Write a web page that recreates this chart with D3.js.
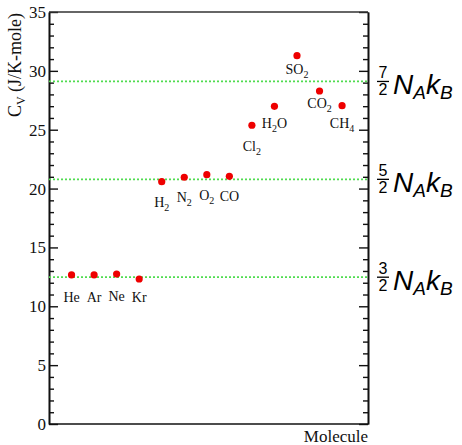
<!DOCTYPE html>
<html>
<head>
<meta charset="utf-8">
<script src="https://cdn.jsdelivr.net/npm/d3@7"></script>
<style>
  body { margin: 0; background: #fff; }
  text { font-family: "Liberation Serif", "Times New Roman", serif; }
</style>
</head>
<body>
<div id="chart"></div>
<script>
// data
const molecules = ["He", "Ar", "Ne", "Kr", "H2", "N2", "O2", "CO", "Cl2", "H2O", "SO2", "CO2", "CH4"];
const cvValues = [12.66, 12.66, 12.74, 12.32, 20.59, 20.96, 21.18, 21.04, 25.38, 26.99, 31.29, 28.29, 27.04];
const halfDegrees = [3, 5, 7];   // (n/2) N_A k_B
const R = 8.314;
const yTicks = [0, 5, 10, 15, 20, 25, 30, 35];

// label baseline offset under each point (px)
const labelDy = [27, 27, 27, 23, 25, 25, 25, 25, 26, 22, 18, 17, 22];

const W = 462, H = 445;
const margin = { top: 12, right: 94, bottom: 21, left: 49 };
const width = W - margin.left - margin.right;
const height = H - margin.top - margin.bottom;

const svg = d3.select("#chart")
    .append("svg")
    .attr("width", W)
    .attr("height", H);

const g = svg.append("g")
    .attr("transform", `translate(${margin.left},${margin.top})`);

const x = d3.scaleLinear().domain([0, 14.15]).range([0, width]);
const y = d3.scaleLinear().domain([0, 35]).range([height, 0]);

const minor = d3.range(0, 36).filter(v => v % 5 !== 0);

// left axis, ticks inward
g.append("g")
    .attr("class", "axis")
    .call(d3.axisLeft(y).tickValues(yTicks).tickSize(-9).tickPadding(3).tickSizeOuter(0));
g.append("g")
    .attr("class", "axis minor")
    .call(d3.axisLeft(y).tickValues(minor).tickSize(-5).tickFormat("").tickSizeOuter(0));

// right axis, ticks inward, no labels
g.append("g")
    .attr("class", "axis")
    .attr("transform", `translate(${width},0)`)
    .call(d3.axisRight(y).tickValues(yTicks).tickSize(-9).tickFormat("").tickSizeOuter(0));
g.append("g")
    .attr("class", "axis minor")
    .attr("transform", `translate(${width},0)`)
    .call(d3.axisRight(y).tickValues(minor).tickSize(-5).tickFormat("").tickSizeOuter(0));

g.selectAll(".axis path").attr("stroke", "#111").attr("stroke-width", 1.6);
g.selectAll(".axis line").attr("stroke", "#111").attr("stroke-width", 1.4);
g.selectAll(".axis text")
    .style("font-family", "'Liberation Serif', serif")
    .style("font-size", "17px")
    .attr("fill", "#111");

// top and bottom frame
g.append("line").attr("x1", 0).attr("x2", width).attr("y1", 0).attr("y2", 0)
    .attr("stroke", "#333").attr("stroke-width", 1.6);
g.append("line").attr("x1", 0).attr("x2", width).attr("y1", height).attr("y2", height)
    .attr("stroke", "#111").attr("stroke-width", 1.6);

// equipartition lines
g.selectAll(".level")
    .data(halfDegrees)
    .enter().append("line")
    .attr("class", "level")
    .attr("x1", 0)
    .attr("x2", width)
    .attr("y1", d => y(d / 2 * R))
    .attr("y2", d => y(d / 2 * R))
    .attr("stroke", "#4fdc4f")
    .attr("stroke-width", 1.7)
    .attr("stroke-dasharray", "2,2");

// points
g.selectAll(".dot")
    .data(molecules)
    .enter().append("circle")
    .attr("class", "dot")
    .attr("cx", (d, i) => x(i + 1))
    .attr("cy", (d, i) => y(cvValues[i]))
    .attr("r", 3.6)
    .attr("fill", "#ee0000");

// molecule labels with subscripts
const labels = g.selectAll(".lbl")
    .data(molecules)
    .enter().append("text")
    .attr("class", "lbl")
    .attr("x", (d, i) => x(i + 1))
    .attr("y", (d, i) => y(cvValues[i]) + labelDy[i])
    .attr("text-anchor", "middle")
    .style("font-size", "14px")
    .attr("fill", "#111");

labels.each(function (d) {
    const t = d3.select(this);
    const parts = d.match(/[A-Za-z]+|\d+/g);
    let sub = false;
    parts.forEach(p => {
        const isNum = /\d/.test(p);
        const ts = t.append("tspan").text(p);
        if (isNum) {
            ts.attr("dy", 4).style("font-size", "10px");
            sub = true;
        } else if (sub) {
            ts.attr("dy", -4);
            sub = false;
        }
    });
});

// axis titles
svg.append("text")
    .attr("transform", "translate(21,65) rotate(-90)")
    .attr("text-anchor", "middle")
    .style("font-size", "18px")
    .attr("fill", "#111")
    .call(t => {
        t.append("tspan").text("C");
        t.append("tspan").text("V").attr("dy", 4).style("font-size", "12px");
        t.append("tspan").text(" (J/K-mole)").attr("dy", -4);
    });

svg.append("text")
    .attr("x", margin.left + width)
    .attr("y", 442)
    .attr("text-anchor", "end")
    .style("font-size", "17px")
    .attr("fill", "#111")
    .text("Molecule");

// right-hand labels: (n/2) N_A k_B
const sans = "'Liberation Sans', Arial, sans-serif";
halfDegrees.forEach(n => {
    const ly = margin.top + y(n / 2 * R);
    const fx = 383;
    svg.append("text")
        .attr("x", fx).attr("y", ly - 3)
        .attr("text-anchor", "middle")
        .style("font-family", sans).style("font-size", "16px")
        .text(n);
    svg.append("line")
        .attr("x1", fx - 6).attr("x2", fx + 6)
        .attr("y1", ly).attr("y2", ly)
        .attr("stroke", "#000").attr("stroke-width", 1.3);
    svg.append("text")
        .attr("x", fx).attr("y", ly + 14)
        .attr("text-anchor", "middle")
        .style("font-family", sans).style("font-size", "16px")
        .text(2);
    const t = svg.append("text")
        .attr("x", 393).attr("y", ly + 13)
        .style("font-family", sans).style("font-style", "italic")
        .style("font-size", "28px");
    t.append("tspan").text("N");
    t.append("tspan").text("A").attr("dy", 5).style("font-size", "19px");
    t.append("tspan").text("k").attr("dy", -5);
    t.append("tspan").text("B").attr("dy", 5).style("font-size", "19px");
});
</script>
</body>
</html>
